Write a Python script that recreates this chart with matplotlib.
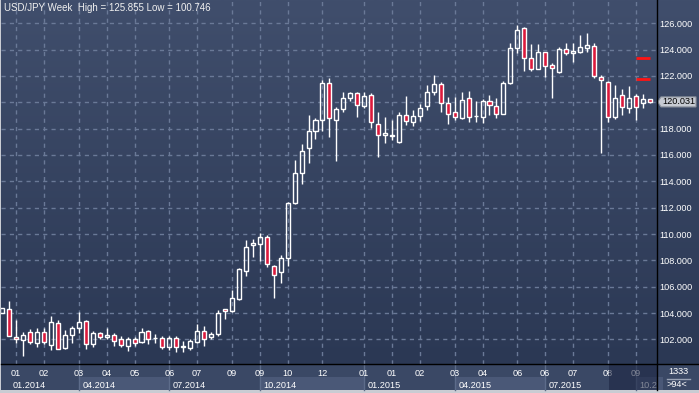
import numpy as np
import matplotlib
matplotlib.use("Agg")
import matplotlib.pyplot as plt
import matplotlib.transforms as mtrans
from matplotlib.colors import to_rgb

# ---------------- data (weekly USD/JPY candles) ----------------
opens = [103.98, 104.31, 102.20, 101.98, 102.54, 101.70, 102.54, 101.55, 103.22, 101.37,
         102.31, 102.89, 103.37, 101.63, 102.46, 102.16, 102.31, 102.00, 101.52, 102.00,
         101.83, 102.64, 102.10, 102.08, 101.45, 102.08, 101.45, 101.37, 101.83, 102.64,
         102.16, 102.39, 104.29, 104.18, 105.04, 107.22, 109.14, 109.27, 109.75, 107.55,
         107.14, 108.20, 112.33, 114.61, 116.51, 117.85, 118.63, 121.44, 118.63, 119.47,
         120.31, 120.68, 119.74, 120.53, 118.33, 117.50, 117.45, 117.01, 119.01, 118.53,
         118.98, 119.70, 120.81, 121.39, 119.97, 119.24, 118.79, 120.31, 118.93, 118.86,
         120.08, 119.70, 119.14, 121.44, 124.10, 125.62, 123.34, 122.55, 123.80, 122.83,
         122.32, 124.03, 123.72, 123.84, 124.10, 124.28, 121.90, 121.57, 118.91, 120.53,
         119.59, 120.46, 119.97, 120.25]
highs = [104.36, 104.92, 103.47, 102.58, 102.77, 102.87, 102.87, 103.78, 103.47, 102.71,
         103.02, 104.10, 103.47, 102.64, 102.56, 102.87, 102.46, 102.26, 102.20, 102.20,
         102.87, 102.71, 102.41, 102.26, 102.26, 102.26, 101.88, 102.03, 103.19, 103.02,
         102.58, 104.23, 104.33, 105.75, 107.40, 109.55, 109.62, 110.05, 109.93, 107.65,
         108.41, 112.45, 115.62, 116.83, 119.04, 118.79, 121.69, 121.82, 119.67, 120.81,
         120.76, 120.76, 120.76, 120.68, 119.29, 118.86, 118.66, 119.24, 120.48, 119.42,
         119.87, 121.31, 122.07, 121.57, 120.38, 120.38, 120.76, 120.86, 120.10, 120.27,
         120.56, 120.31, 121.62, 124.48, 125.855, 125.74, 124.43, 124.43, 123.85, 122.96,
         124.22, 124.48, 124.53, 125.11, 125.24, 124.53, 122.07, 121.62, 121.29, 120.99,
         121.24, 120.63, 120.63, 120.27]
lows = [103.98, 102.25, 101.75, 100.746, 101.63, 101.40, 101.63, 101.20, 101.25, 101.29,
        101.75, 102.46, 101.29, 101.45, 102.00, 102.00, 101.50, 101.40, 101.14, 101.50,
        101.70, 101.63, 101.75, 101.25, 101.20, 101.03, 101.03, 101.20, 101.75, 101.52,
        102.00, 102.28, 103.57, 104.10, 104.99, 106.81, 108.28, 107.97, 107.52, 105.16,
        106.26, 107.60, 112.30, 113.80, 115.42, 117.24, 117.82, 117.39, 115.57, 119.29,
        120.12, 118.86, 119.59, 118.03, 115.87, 116.93, 117.14, 116.89, 118.28, 118.22,
        118.58, 119.42, 120.56, 119.29, 118.33, 118.66, 118.71, 118.53, 118.53, 118.45,
        119.04, 118.83, 119.10, 121.39, 123.72, 122.40, 122.40, 122.50, 121.90, 120.35,
        122.20, 123.59, 123.04, 123.77, 123.80, 121.82, 116.13, 118.53, 118.76, 119.04,
        119.21, 118.66, 119.59, 119.93]
closes = [104.36, 102.28, 102.05, 102.31, 101.83, 102.54, 101.80, 103.32, 101.29, 102.31,
          102.84, 103.30, 101.65, 102.46, 102.16, 102.31, 101.86, 101.55, 102.03, 101.70,
          102.54, 102.05, 102.13, 101.40, 102.08, 101.40, 101.48, 101.88, 102.64, 102.03,
          102.39, 104.03, 104.14, 105.12, 107.32, 109.00, 109.32, 109.75, 107.70, 106.87,
          108.16, 112.33, 114.61, 116.30, 117.82, 118.63, 121.44, 118.79, 119.47, 120.31,
          120.68, 119.77, 120.48, 118.48, 117.50, 117.67, 117.50, 119.04, 118.60, 118.96,
          119.55, 120.76, 121.39, 119.97, 119.09, 118.91, 120.18, 118.86, 118.98, 120.08,
          119.77, 119.14, 121.44, 124.10, 125.49, 123.34, 122.55, 123.80, 122.78, 122.63,
          124.03, 123.72, 123.90, 124.18, 124.35, 122.00, 121.67, 118.91, 120.31, 119.62,
          120.31, 119.67, 120.25, 120.031]

month_labels = ["01", "02", "03", "04", "05", "06", "07", "09", "09", "10", "12",
                "01", "01", "02", "03", "04", "06", "06", "07", "08", "09"]
month_pos = [2, 6, 11, 15, 19, 24, 28, 33, 37, 41, 46,
             52, 56, 60, 65, 69, 74, 78, 82, 87, 91]
quarter_labels = ["01.2014", "04.2014", "07.2014", "10.2014",
                  "01.2015", "04.2015", "07.2015", "10.2"]
quarter_start = [1, 11, 24, 37, 52, 65, 78, 91]
price_ticks = list(range(102, 127, 2))
level_lines = [123.34, 121.75]
level_span = (91, 93)
title = "USD/JPY Week  High = 125.855 Low = 100.746"
last_price = closes[-1]

# ---------------- layout (pixels) ----------------
W, H = 699, 393
X0, STEP = 2.3, 6.96          # pixel of candle 0, pixel per candle
Y126, PPU = 23.3, 13.17       # pixel of 126.0, pixel per price unit
L, R, T, B = 1, 657, 0, 364   # main plot area in pixels
PB = 390                      # bottom of whole chart
FONT = ["Liberation Sans", "DejaVu Sans"]

fig = plt.figure(figsize=(W / 100, H / 100), dpi=100, facecolor="#c9ccd3")

# background axes in pixel coordinates
bg = fig.add_axes([0, 0, 1, 1], zorder=0)
bg.set_xlim(0, W); bg.set_ylim(H, 0); bg.axis("off")
top_c, bot_c = np.array(to_rgb("#404e6c")), np.array(to_rgb("#2b3854"))
t = np.linspace(0, 1, 200)[:, None, None]
grad = top_c[None, None, :] * (1 - t) + bot_c[None, None, :] * t
bg.imshow(grad, extent=(L, W, B, T), aspect="auto", interpolation="bilinear")
bg.add_patch(plt.Rectangle((L, B), W - L, PB - B, color="#3a4865", lw=0))

# main axes
ax = fig.add_axes([L / W, 1 - B / H, (R - L) / W, (B - T) / H], zorder=2)
ax.patch.set_alpha(0)
ax.set_xlim((L - X0) / STEP, (R - X0) / STEP)
ax.set_ylim(126 - (B - Y126) / PPU, 126 + (Y126 - T) / PPU)
for s in ax.spines.values():
    s.set_visible(False)

ax.set_axisbelow(True)
ax.grid(True, color="#6a7997", linestyle=(0, (3, 3)), lw=1)
ax.set_xticks(month_pos)
ax.set_xticklabels(month_labels)
ax.yaxis.tick_right()
ax.set_yticks(price_ticks)
# the 120.000 label is hidden under the last-price tag in the reference
ax.set_yticklabels(["" if abs(v - last_price) < 1.0 else f"{v:.3f}" for v in price_ticks])
ax.tick_params(axis="x", length=0, pad=3.4, labelsize=6.6, labelcolor="white")
ax.tick_params(axis="y", length=0, pad=1.6, labelsize=6.6, labelcolor="white")
for lab in ax.get_xticklabels() + ax.get_yticklabels():
    lab.set_family(FONT)

# candles
x = np.arange(len(opens))
o, h, l, c = map(np.array, (opens, highs, lows, closes))
top = np.maximum(o, c)
bot = np.minimum(o, c)
ax.vlines(x, top, h, color="white", lw=1, zorder=3)
ax.vlines(x, l, bot, color="white", lw=1, zorder=3)
height = np.maximum(top - bot, 0.04)
fills = ["#dc1a3c" if cc < oo else "none" for oo, cc in zip(opens, closes)]
ax.bar(x, height, bottom=bot, width=0.58, color=fills, edgecolor="white",
       lw=1, zorder=4)

# level lines
ax.hlines(level_lines, level_span[0], level_span[1], color="#ff1414", lw=2, zorder=5)

# title
ax.annotate(title, xy=(0, 1), xycoords="axes fraction", xytext=(3, -3),
            textcoords="offset pixels", ha="left", va="top", fontsize=7,
            color="#f0f0f0", family=FONT)

# quarter band (bottom row)
trans_q = mtrans.blended_transform_factory(ax.transData, bg.transData)
q_edges = quarter_start[1:] + [len(opens) + 1]
for k, (qs, qe) in enumerate(zip([None] + quarter_start[1:], q_edges)):
    x_left = ax.get_xlim()[0] if qs is None else qs
    col = "#4a5877" if k % 2 == 1 else "#3a4865"
    bg.add_patch(plt.Rectangle((x_left, 377), qe - x_left, PB - 377,
                               transform=trans_q, color=col, lw=0))
for qs in quarter_start[1:]:
    bg.plot([qs, qs], [B, PB], transform=trans_q, color="#5d6c8a", lw=1)
for qs, ql in zip(quarter_start, quarter_labels):
    ax.annotate(ql, xy=(qs, 0), xycoords=mtrans.blended_transform_factory(ax.transData, ax.transAxes),
                xytext=(3.5, -16.5), textcoords="offset pixels", ha="left", va="top",
                fontsize=6.6, color="white", family=FONT, annotation_clip=False)

# price tag (box with small left pointer)
tag_tr = mtrans.blended_transform_factory(ax.transAxes, ax.transData)
wpx = R - L
hh = 5.0 / PPU
tag = plt.Polygon([(1 + 0.8 / wpx, last_price), (1 + 4 / wpx, last_price + hh),
                   (1 + 39 / wpx, last_price + hh), (1 + 39 / wpx, last_price - hh),
                   (1 + 4 / wpx, last_price - hh)], closed=True, transform=tag_tr,
                  fc="#c6cad2", ec="#8d939e", lw=0.8, clip_on=False, zorder=6)
ax.add_patch(tag)
ax.text(1 + 21.5 / wpx, last_price, f"{last_price:.3f}", transform=tag_tr,
        ha="center", va="center", fontsize=6.6, color="black", family=FONT,
        clip_on=False, zorder=7)

# overlay decorations
ov = fig.add_axes([0, 0, 1, 1], zorder=3)
ov.set_xlim(0, W); ov.set_ylim(H, 0); ov.axis("off"); ov.patch.set_alpha(0)
ov.add_patch(plt.Rectangle((609, B + 0.5), R - 609, PB - B - 0.5, color="#1a2340",
                           alpha=0.55, lw=0))
ov.plot([R, R], [T, PB], color="black", lw=1)
ov.plot([L, W], [B, B], color="black", lw=1)
ov.text(678, 372, "1333", ha="center", va="center", fontsize=6.6, color="white", family=FONT)
ov.plot([667, 690], [378.5, 378.5], color="#9aa3b5", lw=1)
ov.text(677, 384.5, ">94<", ha="center", va="center", fontsize=6.6, color="white", family=FONT)

fig.savefig("out.png", dpi=100, facecolor=fig.get_facecolor())
